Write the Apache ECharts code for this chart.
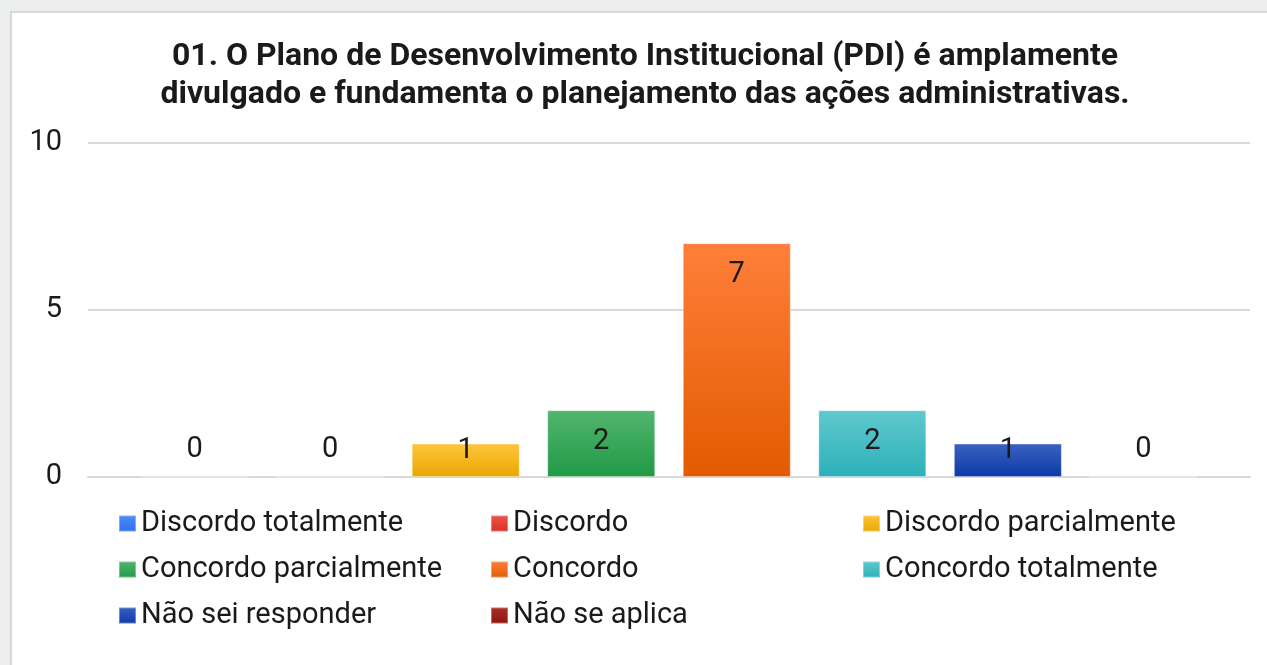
<!DOCTYPE html>
<html>
<head>
<meta charset="utf-8">
<script src="https://cdn.jsdelivr.net/npm/echarts@6/dist/echarts.min.js"></script>
<style>
  html, body { margin: 0; padding: 0; background: #eceeee; overflow: hidden; }
  #frame { position: absolute; left: 10px; top: 11px; width: 1270px; height: 670px;
           background: #fff; border: 2px solid #d8d8d8; box-sizing: border-box; }
  #chart { position: absolute; left: 0; top: 0; width: 1267px; height: 665px; }
</style>
</head>
<body>
<div id="frame"></div>
<div id="chart"></div>
<script>
const titleText = '01. O Plano de Desenvolvimento Institucional (PDI) é amplamente\ndivulgado e fundamenta o planejamento das ações administrativas.';
const seriesNames = [
  'Discordo totalmente', 'Discordo', 'Discordo parcialmente',
  'Concordo parcialmente', 'Concordo', 'Concordo totalmente',
  'Não sei responder', 'Não se aplica'
];
const seriesValues = [0, 0, 1, 2, 7, 2, 1, 0];
const colorsTop = ['#4a8ff7', '#f0544a', '#ffc53d', '#52b56e', '#ff7f3a', '#5fc9cd', '#3b61c2', '#a8322a'];
const colorsBottom = ['#2f6fe8', '#d93025', '#e8a800', '#209a46', '#e35b00', '#2db0ba', '#0a3aa6', '#8c140c'];
const yTicks = [0, 5, 10];

// legend columns as in the picture
const legendCols = [
  ['Discordo totalmente', 'Concordo parcialmente', 'Não sei responder'],
  ['Discordo', 'Concordo', 'Não se aplica'],
  ['Discordo parcialmente', 'Concordo totalmente']
];
const legendLeft = [113, 485, 857];

// Excel puts the value inside the bar end unless the bar is too short
function labelFor(v) {
  if (v === 0) return {position: 'top', distance: 12};
  if (v === 1) return {position: 'insideTop', distance: 0, offset: [0, -7]};
  return {position: 'insideTop', distance: 17};
}

const chart = echarts.init(document.getElementById('chart'), null, {renderer: 'canvas'});

const series = seriesNames.map((name, i) => ({
  name: name,
  type: 'bar',
  barWidth: 108,
  barGap: '25.5%',
  data: [{value: seriesValues[i], label: labelFor(seriesValues[i])}],
  itemStyle: {
    color: new echarts.graphic.LinearGradient(0, 0, 0, 1, [
      {offset: 0, color: colorsTop[i]},
      {offset: 1, color: colorsBottom[i]}
    ]),
    borderColor: 'rgba(255,255,255,0.35)',
    borderWidth: 1
  },
  label: {
    show: true,
    color: '#1a1a1a',
    fontSize: 29,
    lineHeight: 29,
    fontFamily: 'Roboto'
  }
}));

chart.setOption({
  backgroundColor: 'transparent',
  animation: false,
  title: {
    text: titleText,
    left: 640,
    textAlign: 'center',
    top: 33,
    textStyle: {
      fontFamily: 'Roboto',
      fontSize: 32,
      fontWeight: 'bold',
      lineHeight: 38,
      color: '#1a1a1a'
    }
  },
  legend: legendCols.map((col, k) => ({
    data: col,
    orient: 'vertical',
    left: legendLeft[k],
    top: 504,
    itemWidth: 17,
    itemHeight: 16,
    itemGap: 17,
    icon: 'rect',
    selectedMode: false,
    textStyle: {fontFamily: 'Roboto', fontSize: 29, lineHeight: 29, color: '#1a1a1a'}
  })),
  grid: {left: 88, right: 17, top: 143, bottom: 188, containLabel: false},
  xAxis: {
    type: 'category',
    data: [''],
    axisLine: {lineStyle: {color: '#d9d9d9', width: 2}},
    axisTick: {show: false},
    axisLabel: {show: false}
  },
  yAxis: {
    type: 'value',
    min: yTicks[0],
    max: yTicks[yTicks.length - 1],
    interval: 5,
    axisLine: {show: false},
    axisTick: {show: false},
    axisLabel: {fontFamily: 'Roboto', fontSize: 29, color: '#1a1a1a', margin: 26},
    splitLine: {lineStyle: {color: '#d9d9d9', width: 2}}
  },
  series: series
});
</script>
</body>
</html>
